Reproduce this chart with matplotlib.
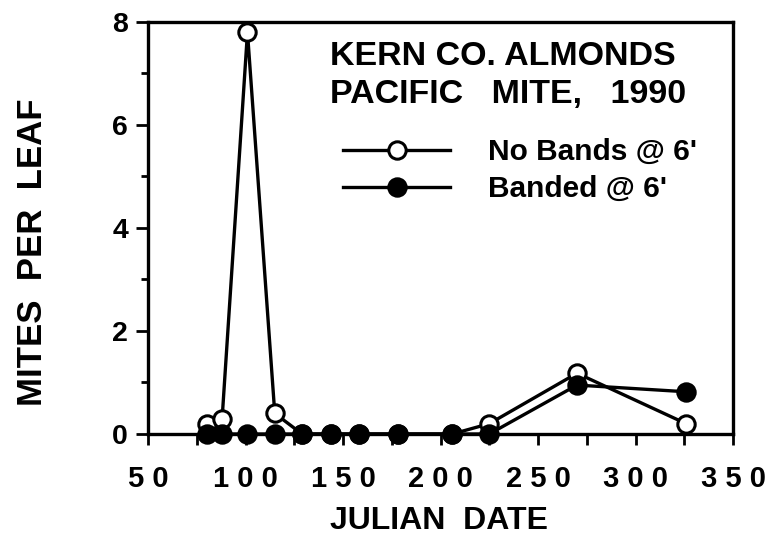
import matplotlib.pyplot as plt
from matplotlib.ticker import MultipleLocator

plt.rcParams['font.family'] = ['Liberation Sans', 'DejaVu Sans']
plt.rcParams['font.weight'] = 'bold'

# julian dates of the samples
dates = [80, 88, 101, 115, 129, 144, 158, 178, 206, 225, 270, 326]
no_bands = [0.2, 0.3, 7.8, 0.4, 0, 0, 0, 0, 0, 0.2, 1.18, 0.2]
banded = [0, 0, 0, 0, 0, 0, 0, 0, 0, 0, 0.95, 0.82]

x_ticks = [50, 100, 150, 200, 250, 300, 350]
x_labels = ['5 0', '1 0 0', '1 5 0', '2 0 0', '2 5 0', '3 0 0', '3 5 0']
y_ticks = [0, 2, 4, 6, 8]

fig = plt.figure(figsize=(7.77, 5.4), dpi=100)
ax = fig.add_axes([0.1905, 0.1963, 0.7529, 0.763])

ax.plot(dates, no_bands, color='black', lw=2.4, marker='o', ms=12.5,
        mfc='white', mec='black', mew=2.2, clip_on=False, zorder=3,
        label="No Bands @ 6'")
ax.plot(dates, banded, color='black', lw=2.4, marker='o', ms=12.5,
        mfc='black', mec='black', mew=2.2, clip_on=False, zorder=4,
        label="Banded @ 6'")

ax.set_xlim(50, 350)
ax.set_ylim(0, 8)
ax.set_xticks(x_ticks)
ax.set_xticklabels(x_labels)
ax.xaxis.set_minor_locator(MultipleLocator(25))
ax.set_yticks(y_ticks)
ax.yaxis.set_minor_locator(MultipleLocator(1))

for s in ax.spines.values():
    s.set_linewidth(2.4)

ax.tick_params(axis='x', which='both', direction='out', length=8, width=2,
               labelsize=21, pad=14)
ax.tick_params(axis='y', which='major', direction='out', length=8.5, width=2,
               labelsize=20.5, pad=6)
ax.tick_params(axis='y', which='minor', direction='out', length=5, width=2)

ax.set_ylabel('MITES  PER  LEAF', fontsize=25, fontweight='bold')
ax.yaxis.set_label_coords(-0.169, 0.442)
ax.set_xlabel('JULIAN  DATE', fontsize=23, fontweight='bold')
ax.xaxis.set_label_coords(0.498, -0.175)

ax.text(0.311, 0.917, 'KERN CO. ALMONDS', transform=ax.transAxes,
        fontsize=24.5, fontweight='bold', va='center', ha='left')
ax.text(0.311, 0.825, 'PACIFIC   MITE,   1990', transform=ax.transAxes,
        fontsize=24.5, fontweight='bold', va='center', ha='left')

leg = ax.legend(loc='upper left', bbox_to_anchor=(0.333, 0.718), frameon=False,
                fontsize=21.5, handlelength=3.6, handletextpad=1.25,
                labelspacing=0.3, borderaxespad=0, borderpad=0)

fig.savefig('out.png', dpi=100)
